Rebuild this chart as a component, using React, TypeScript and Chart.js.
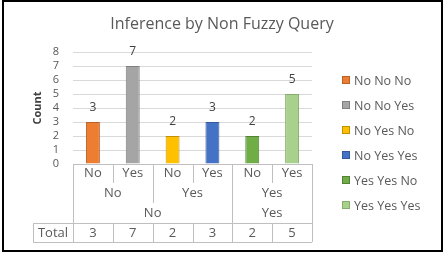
import React, { useEffect, useRef } from "react";
import { Chart, registerables } from "chart.js";

Chart.register(...registerables);

const chartTitle = "Inference by Non Fuzzy Query";
const yAxisTitle = "Count";
const level1 = ["No", "Yes", "No", "Yes", "No", "Yes"];
const level2 = ["No", "No", "Yes", "Yes", "Yes", "Yes"];
const level3 = ["No", "No", "No", "No", "Yes", "Yes"];
const legendLabels = ["No No No", "No No Yes", "No Yes No", "No Yes Yes", "Yes Yes No", "Yes Yes Yes"];
const counts = [3, 7, 2, 3, 2, 5];
const totalLabel = "Total";
const yTicks = [0, 1, 2, 3, 4, 5, 6, 7, 8];

const fillColors = ["#ED7D31", "#A5A5A5", "#FFC000", "#4472C4", "#70AD47", "#A9D18E"];
const edgeColors = ["#B8612A", "#7F7F7F", "#C09000", "#335A9A", "#548235", "#86AD6C"];

const FONT = "'Open Sans', 'DejaVu Sans', sans-serif";
const TEXT = "#595959";
const LINE = "#BFBFBF";

function groups(keys: string[]) {
  const out: { start: number; end: number; label: string }[] = [];
  keys.forEach((k, i) => {
    const last = out[out.length - 1];
    if (last && last.label === k) last.end = i;
    else out.push({ start: i, end: i, label: k });
  });
  return out;
}

const tablePlugin = {
  id: "tablePlugin",
  afterDraw(chart: any) {
    const ctx = chart.ctx;
    const xs = chart.scales.x;
    const area = chart.chartArea;
    const n = level1.length;
    const half = (xs.getPixelForValue(1) - xs.getPixelForValue(0)) / 2;
    const edge = (i: number) => (i < n ? xs.getPixelForValue(i) - half : xs.getPixelForValue(n - 1) + half);
    const top = area.bottom;
    const rowH = [19, 20, 20, 19];
    const rowY = [top];
    rowH.forEach((h, i) => rowY.push(rowY[i] + h));
    const left = edge(0);
    const right = edge(n);
    const totalLeft = 33;

    ctx.save();
    // title
    ctx.font = `16px ${FONT}`;
    ctx.fillStyle = TEXT;
    ctx.textAlign = "center";
    ctx.textBaseline = "middle";
    ctx.fillText(chartTitle, 222, 24);

    // data labels
    const meta = chart.getDatasetMeta(0);
    ctx.font = `12px ${FONT}`;
    ctx.fillStyle = "#404040";
    meta.data.forEach((bar: any, i: number) => {
      ctx.fillText(String(counts[i]), bar.x, bar.y - 14);
    });

    // table lines
    ctx.strokeStyle = LINE;
    ctx.lineWidth = 1;
    const hline = (x1: number, x2: number, y: number) => {
      ctx.beginPath();
      ctx.moveTo(x1, Math.round(y) + 0.5);
      ctx.lineTo(x2, Math.round(y) + 0.5);
      ctx.stroke();
    };
    const vline = (x: number, y1: number, y2: number) => {
      ctx.beginPath();
      ctx.moveTo(Math.round(x) + 0.5, y1);
      ctx.lineTo(Math.round(x) + 0.5, y2);
      ctx.stroke();
    };
    hline(left, right, rowY[0]);
    hline(totalLeft, right, rowY[3]);
    hline(totalLeft, right, rowY[4]);
    vline(left, rowY[0], rowY[4]);
    vline(right, rowY[0], rowY[4]);
    vline(totalLeft, rowY[3], rowY[4]);
    for (let i = 1; i < n; i++) {
      let depth = 1;
      if (level2[i] !== level2[i - 1] || level3[i] !== level3[i - 1]) depth = 2;
      if (level3[i] !== level3[i - 1]) depth = 3;
      vline(edge(i), rowY[0], rowY[depth]);
      vline(edge(i), rowY[3], rowY[4]);
    }

    // table text
    ctx.font = `13px ${FONT}`;
    ctx.fillStyle = TEXT;
    level1.forEach((t, i) => ctx.fillText(t, (edge(i) + edge(i + 1)) / 2, (rowY[0] + rowY[1]) / 2));
    const g2 = groups(level2.map((v, i) => level3[i] + "|" + v));
    g2.forEach((g) => ctx.fillText(g.label.split("|")[1], (edge(g.start) + edge(g.end + 1)) / 2, (rowY[1] + rowY[2]) / 2));
    const g3 = groups(level3);
    g3.forEach((g) => ctx.fillText(g.label, (edge(g.start) + edge(g.end + 1)) / 2, (rowY[2] + rowY[3]) / 2));
    ctx.fillText(totalLabel, (totalLeft + left) / 2, (rowY[3] + rowY[4]) / 2 + 1);
    counts.forEach((c, i) => ctx.fillText(String(c), (edge(i) + edge(i + 1)) / 2, (rowY[3] + rowY[4]) / 2 + 1));

    // legend
    ctx.font = `12.5px ${FONT}`;
    ctx.textAlign = "left";
    legendLabels.forEach((lab, i) => {
      const y = 80 + i * 25;
      ctx.fillStyle = fillColors[i];
      ctx.fillRect(342, y - 4, 8, 8);
      ctx.strokeStyle = edgeColors[i];
      ctx.lineWidth = 1;
      ctx.strokeRect(342.5, y - 3.5, 7, 7);
      ctx.fillStyle = TEXT;
      ctx.fillText(lab, 354, y + 1);
    });

    // frame
    ctx.strokeStyle = "#000000";
    ctx.lineWidth = 2;
    ctx.strokeRect(3, 1, 439, 250);
    ctx.restore();
  },
};

export default function App() {
  const ref = useRef<HTMLCanvasElement | null>(null);
  useEffect(() => {
    if (!ref.current) return;
    const chart = new Chart(ref.current, {
      type: "bar",
      data: {
        labels: legendLabels,
        datasets: [
          {
            label: yAxisTitle,
            data: counts,
            backgroundColor: fillColors,
            borderColor: edgeColors,
            borderWidth: 1,
            categoryPercentage: 1,
            barPercentage: 0.35,
          },
        ],
      },
      options: {
        responsive: false,
        animation: false,
        layout: { padding: { left: 28, right: 132, top: 52, bottom: 89 } },
        plugins: {
          legend: { display: false },
          tooltip: { enabled: false },
          title: { display: false },
        },
        scales: {
          x: { display: false, offset: true },
          y: {
            min: yTicks[0],
            max: yTicks[yTicks.length - 1],
            afterFit(scale: any) {
              scale.width = 45;
              scale.paddingTop = 0;
              scale.paddingBottom = 0;
            },
            afterBuildTicks(scale: any) {
              scale.ticks = yTicks.map((v) => ({ value: v }));
            },
            ticks: {
              stepSize: 1,
              autoSkip: false,
              padding: 14,
              color: TEXT,
              font: { family: FONT, size: 11 },
            },
            grid: { color: "#D9D9D9", drawTicks: false },
            border: { display: false },
            title: {
              display: true,
              text: yAxisTitle,
              color: "#404040",
              font: { family: FONT, size: 11, weight: "bold" },
              padding: { top: 3, bottom: 0 },
            },
          },
        },
      },
      plugins: [tablePlugin],
    });
    return () => chart.destroy();
  }, []);
  return (
    <div style={{ position: "fixed", left: 0, top: 0, width: 444, height: 253, background: "#fff" }}>
      <canvas ref={ref} width={444} height={253} style={{ display: "block" }} />
    </div>
  );
}
